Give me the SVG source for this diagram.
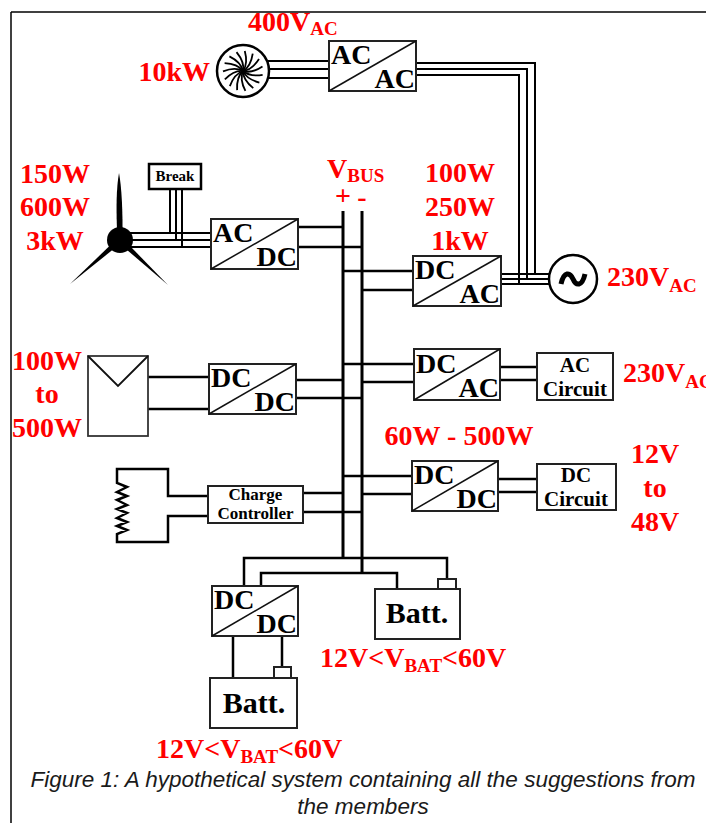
<svg xmlns="http://www.w3.org/2000/svg" width="706" height="823" viewBox="0 0 706 823">
<style>
.w{stroke:#000;stroke-width:2.5;fill:none}
.p3{stroke:#000;stroke-width:2;fill:none}
.bus{stroke:#000;stroke-width:3;fill:none}
.box{fill:#fff;stroke:#222;stroke-width:2}
.diag{stroke:#111;stroke-width:1.5}
.bl{font-family:"Liberation Serif",serif;font-weight:bold;font-size:28px;fill:#000}
.red{font-family:"Liberation Serif",serif;font-weight:bold;font-size:28px;fill:#f00}
.sub{font-size:19px}
.sm{font-family:"Liberation Serif",serif;font-weight:bold;fill:#000;text-anchor:middle}
.cap{font-family:"Liberation Sans",Arial,sans-serif;font-style:italic;font-size:22.5px;fill:#1a1a1a;text-anchor:middle}
.mid{text-anchor:middle}
.end{text-anchor:end}
</style>
<defs>
<path id="sw" d="M0,0 Q9,-1 16,-12" stroke="#000" stroke-width="1.8" fill="none"/>
</defs>
<rect width="706" height="823" fill="#fff"/>
<g id="frame" stroke="#000" stroke-width="1.5">
<line x1="11" y1="12" x2="706" y2="12"/>
<line x1="11" y1="12" x2="11" y2="823"/>
</g>

<g id="connectors">
<path class="p3" d="M266,61 H329 M268,69 H329 M266,78 H329"/>
<path class="p3" d="M416,63 H535 V274 M416,69 H527 V279 M416,75 H519 V284 M501,274 H549 M501,279 H549 M501,284 H549"/>
<path class="p3" d="M125,233 H211 M125,240 H211 M125,247 H211 M170,189 V233 M176,189 V240 M182,189 V247"/>
<path class="bus" d="M343,211 V558 M362,211 V573"/>
<path class="w" d="M298,227 H343 M298,247 H362"/>
<path class="w" d="M343,271 H413 M362,290 H413"/>
<path class="w" d="M148,377 H209 M148,409 H209 M296,380 H343 M296,398 H362"/>
<path class="w" d="M343,364 H414 M362,382 H414 M500,367 H537 M500,380 H537"/>
<path class="w" d="M343,476 H412 M362,494 H412 M498,479 H537 M498,492 H537"/>
<path class="w" d="M303,493 H343 M303,512 H362"/>
<path class="w" d="M208,496 H168 V469 H117 V483 L127,487 L117,492 L127,496 L117,500 L127,505 L117,509 L127,513 L117,518 L127,522 L117,526 L127,530 L117,534 V542 H168 V516 H208"/>
<path class="w" d="M244,586 V558 H447 V579 M261,586 V573 H397 V589 M233,636 V678 M282,636 V667"/>
</g>

<g id="wind-small">
<path d="M117.5,240 Q115,195 119,173 Q123,195 122.5,240 Z" fill="#000"/>
<path d="M122,242.3 L118,237.8 L70,284 Z" fill="#000"/>
<path d="M118,242.2 L122,237.8 L168,285 Z" fill="#000"/>
<circle cx="120" cy="240" r="13" fill="#000"/>
</g>

<g id="break">
<rect x="149" y="164" width="52" height="25" fill="#fff" stroke="#000" stroke-width="2.5"/>
<text class="sm" x="175" y="181" font-size="15">Break</text>
</g>

<g id="wind-large">
<circle cx="243" cy="71" r="26" fill="#fff" stroke="#000" stroke-width="2.5"/>
<g transform="translate(243,71)">
<use href="#sw"/><use href="#sw" transform="rotate(24)"/><use href="#sw" transform="rotate(48)"/><use href="#sw" transform="rotate(72)"/><use href="#sw" transform="rotate(96)"/><use href="#sw" transform="rotate(120)"/><use href="#sw" transform="rotate(144)"/><use href="#sw" transform="rotate(168)"/><use href="#sw" transform="rotate(192)"/><use href="#sw" transform="rotate(216)"/><use href="#sw" transform="rotate(240)"/><use href="#sw" transform="rotate(264)"/><use href="#sw" transform="rotate(288)"/><use href="#sw" transform="rotate(312)"/><use href="#sw" transform="rotate(336)"/>
</g>
</g>

<g id="conv-acac" transform="translate(329,41)">
<rect class="box" width="87" height="50"/><line class="diag" x1="0" y1="50" x2="87" y2="0"/>
<text class="bl" x="2" y="23">AC</text><text class="bl end" x="86" y="47">AC</text>
</g>
<g id="conv-wind" transform="translate(211,219)">
<rect class="box" width="87" height="50"/><line class="diag" x1="0" y1="50" x2="87" y2="0"/>
<text class="bl" x="2" y="23">AC</text><text class="bl end" x="86" y="47">DC</text>
</g>
<g id="conv-grid" transform="translate(413,256)">
<rect class="box" width="88" height="50"/><line class="diag" x1="0" y1="50" x2="88" y2="0"/>
<text class="bl" x="2" y="23">DC</text><text class="bl end" x="87" y="47">AC</text>
</g>
<g id="conv-pv" transform="translate(209,364)">
<rect class="box" width="87" height="50"/><line class="diag" x1="0" y1="50" x2="87" y2="0"/>
<text class="bl" x="2" y="23">DC</text><text class="bl end" x="86" y="47">DC</text>
</g>
<g id="conv-accirc" transform="translate(414,349)">
<rect class="box" width="86" height="51"/><line class="diag" x1="0" y1="51" x2="86" y2="0"/>
<text class="bl" x="2" y="24">DC</text><text class="bl end" x="85" y="48">AC</text>
</g>
<g id="conv-dccirc" transform="translate(412,461)">
<rect class="box" width="86" height="50"/><line class="diag" x1="0" y1="50" x2="86" y2="0"/>
<text class="bl" x="2" y="23">DC</text><text class="bl end" x="85" y="47">DC</text>
</g>
<g id="conv-batt" transform="translate(212,586)">
<rect class="box" width="86" height="50"/><line class="diag" x1="0" y1="50" x2="86" y2="0"/>
<text class="bl" x="2" y="23">DC</text><text class="bl end" x="85" y="47">DC</text>
</g>

<g id="grid">
<circle cx="573" cy="279" r="24" fill="#fff" stroke="#000" stroke-width="2.5"/>
<path d="M561,284 C564,271 570,272 573,279 C576,286 582,287 585,274" fill="none" stroke="#000" stroke-width="5"/>
</g>

<g id="pv">
<rect x="88" y="356" width="60" height="80" fill="#fff" stroke="#333" stroke-width="1.8"/>
<polyline points="88,356 118,386 148,356" fill="none" stroke="#111" stroke-width="1.8"/>
</g>

<g id="ac-circuit">
<rect class="box" x="537" y="353" width="76" height="47"/>
<text class="sm" x="575" y="372" font-size="21">AC</text>
<text class="sm" x="575" y="396" font-size="21">Circuit</text>
</g>
<g id="dc-circuit">
<rect class="box" x="537" y="464" width="79" height="46"/>
<text class="sm" x="576" y="482" font-size="21">DC</text>
<text class="sm" x="576" y="506" font-size="21">Circuit</text>
</g>
<g id="charge-controller">
<rect class="box" x="208" y="486" width="95" height="37"/>
<text class="sm" x="255.5" y="500" font-size="17">Charge</text>
<text class="sm" x="255.5" y="519" font-size="17">Controller</text>
</g>
<g id="battery1">
<rect class="box" x="375" y="589" width="85" height="50"/>
<rect class="box" x="438" y="579" width="18" height="10"/>
<text class="sm" x="417" y="623" font-size="30">Batt.</text>
</g>
<g id="battery2">
<rect class="box" x="210" y="678" width="87" height="50"/>
<rect class="box" x="274" y="667" width="17" height="11"/>
<text class="sm" x="254" y="713" font-size="30">Batt.</text>
</g>

<g id="labels">
<text class="red" x="248" y="31">400V<tspan class="sub" dy="4">AC</tspan></text>
<text class="red end" x="210" y="81">10kW</text>
<text class="red mid" x="55" y="183">150W</text>
<text class="red mid" x="55" y="216">600W</text>
<text class="red mid" x="55" y="250">3kW</text>
<text class="red" x="327" y="178">V<tspan class="sub" dy="4">BUS</tspan></text>
<text class="red mid" x="343" y="205">+</text>
<text class="red mid" x="362" y="206">-</text>
<text class="red mid" x="460" y="182">100W</text>
<text class="red mid" x="460" y="216">250W</text>
<text class="red mid" x="460" y="250">1kW</text>
<text class="red" x="607" y="286">230V<tspan class="sub" dy="6">AC</tspan></text>
<text class="red mid" x="47" y="370">100W</text>
<text class="red mid" x="47" y="403">to</text>
<text class="red mid" x="47" y="437">500W</text>
<text class="red" x="623" y="382">230V<tspan class="sub" dy="6">AC</tspan></text>
<text class="red mid" x="459" y="445">60W - 500W</text>
<text class="red mid" x="655" y="463">12V</text>
<text class="red mid" x="655" y="497">to</text>
<text class="red mid" x="655" y="531">48V</text>
<text class="red" x="320" y="667">12V&lt;V<tspan class="sub" dy="5">BAT</tspan><tspan dy="-5">&lt;60V</tspan></text>
<text class="red" x="156" y="758">12V&lt;V<tspan class="sub" dy="5">BAT</tspan><tspan dy="-5">&lt;60V</tspan></text>
</g>

<g id="caption">
<text class="cap" x="363" y="787">Figure 1: A hypothetical system containing all the suggestions from</text>
<text class="cap" x="363" y="814">the members</text>
</g>
</svg>
